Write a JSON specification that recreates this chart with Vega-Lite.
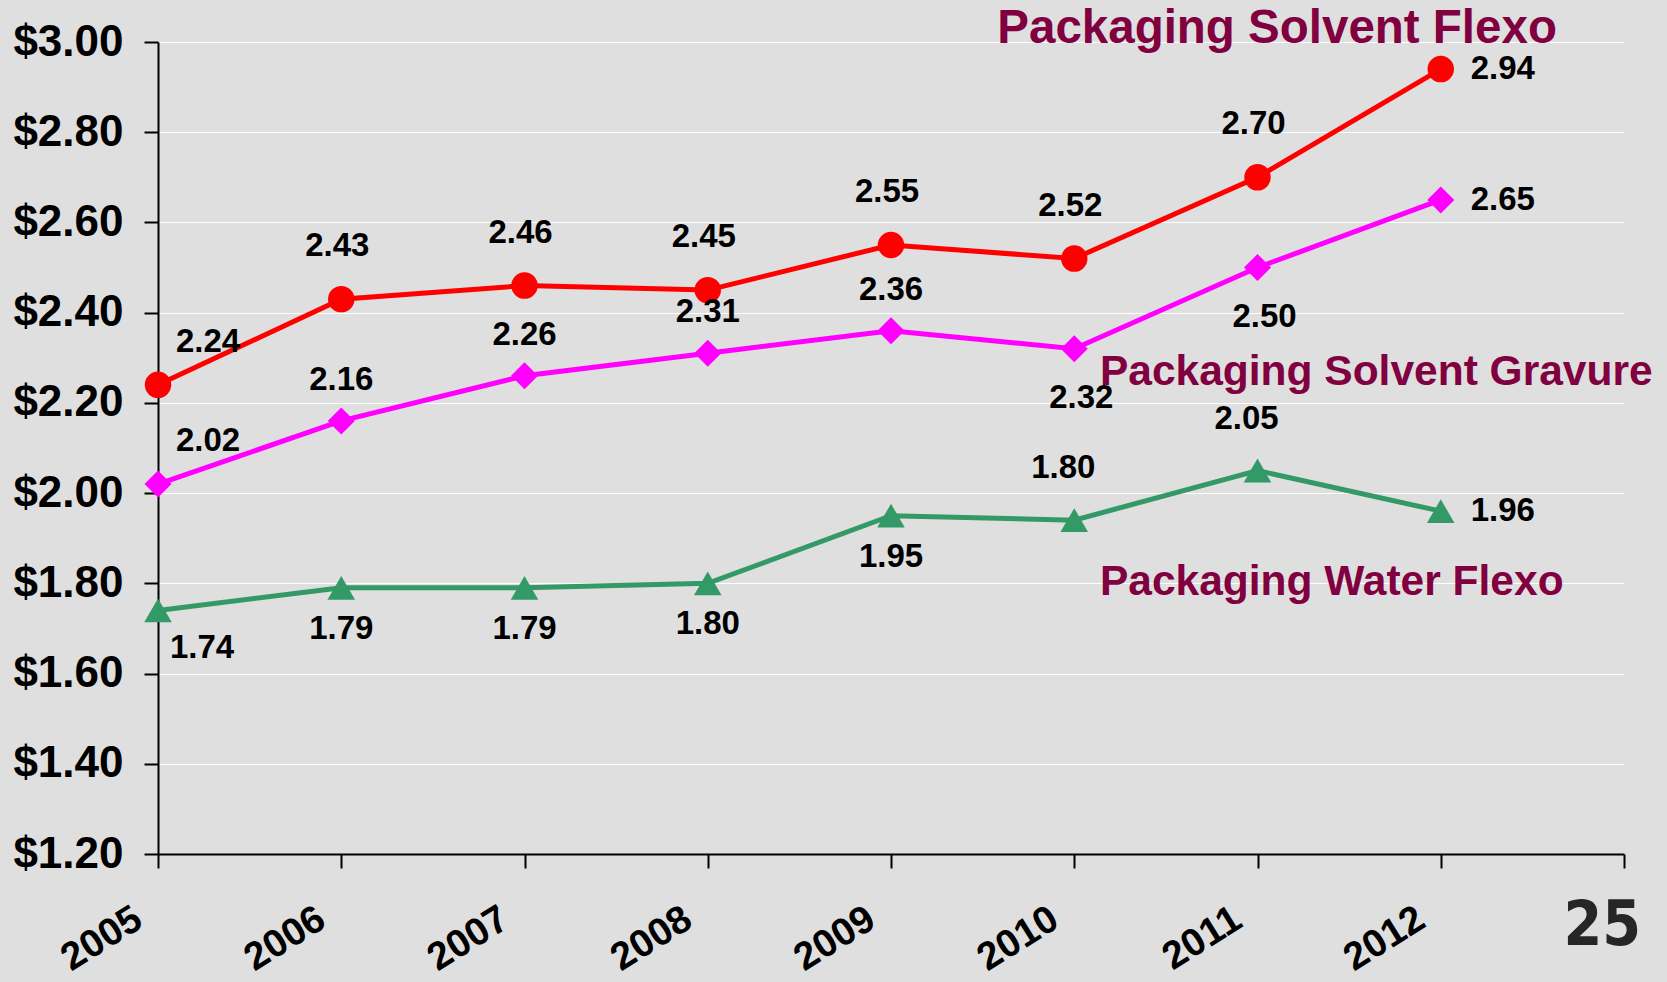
{
  "$schema": "https://vega.github.io/schema/vega-lite/v6.json",
  "width": 1466,
  "height": 812,
  "autosize": "none",
  "padding": {"left": 158, "top": 42, "right": 43, "bottom": 128},
  "background": "#dfdfdf",
  "config": {
    "view": {"stroke": null},
    "font": "Liberation Sans",
    "axis": {
      "domainColor": "#000000",
      "domainWidth": 2,
      "tickColor": "#000000",
      "tickWidth": 2,
      "tickSize": 14,
      "labelColor": "#000000",
      "labelFont": "Liberation Sans",
      "labelFontWeight": "bold",
      "title": null
    }
  },
  "datasets": {
    "prices": [
      {"series": "Packaging Solvent Flexo", "year": 2005, "value": 2.24, "label": "2.24"},
      {"series": "Packaging Solvent Flexo", "year": 2006, "value": 2.43, "label": "2.43"},
      {"series": "Packaging Solvent Flexo", "year": 2007, "value": 2.46, "label": "2.46"},
      {"series": "Packaging Solvent Flexo", "year": 2008, "value": 2.45, "label": "2.45"},
      {"series": "Packaging Solvent Flexo", "year": 2009, "value": 2.55, "label": "2.55"},
      {"series": "Packaging Solvent Flexo", "year": 2010, "value": 2.52, "label": "2.52"},
      {"series": "Packaging Solvent Flexo", "year": 2011, "value": 2.70, "label": "2.70"},
      {"series": "Packaging Solvent Flexo", "year": 2012, "value": 2.94, "label": "2.94"},
      {"series": "Packaging Solvent Gravure", "year": 2005, "value": 2.02, "label": "2.02"},
      {"series": "Packaging Solvent Gravure", "year": 2006, "value": 2.16, "label": "2.16"},
      {"series": "Packaging Solvent Gravure", "year": 2007, "value": 2.26, "label": "2.26"},
      {"series": "Packaging Solvent Gravure", "year": 2008, "value": 2.31, "label": "2.31"},
      {"series": "Packaging Solvent Gravure", "year": 2009, "value": 2.36, "label": "2.36"},
      {"series": "Packaging Solvent Gravure", "year": 2010, "value": 2.32, "label": "2.32"},
      {"series": "Packaging Solvent Gravure", "year": 2011, "value": 2.50, "label": "2.50"},
      {"series": "Packaging Solvent Gravure", "year": 2012, "value": 2.65, "label": "2.65"},
      {"series": "Packaging Water Flexo", "year": 2005, "value": 1.74, "label": "1.74"},
      {"series": "Packaging Water Flexo", "year": 2006, "value": 1.79, "label": "1.79"},
      {"series": "Packaging Water Flexo", "year": 2007, "value": 1.79, "label": "1.79"},
      {"series": "Packaging Water Flexo", "year": 2008, "value": 1.80, "label": "1.80"},
      {"series": "Packaging Water Flexo", "year": 2009, "value": 1.95, "label": "1.95"},
      {"series": "Packaging Water Flexo", "year": 2010, "value": 1.94, "label": "1.80"},
      {"series": "Packaging Water Flexo", "year": 2011, "value": 2.05, "label": "2.05"},
      {"series": "Packaging Water Flexo", "year": 2012, "value": 1.96, "label": "1.96"}
    ],
    "titles": [
      {"name": "Packaging Solvent Flexo", "year": 2009.58, "value": 3.028},
      {"name": "Packaging Solvent Gravure", "year": 2010.14, "value": 2.268},
      {"name": "Packaging Water Flexo", "year": 2010.14, "value": 1.803}
    ],
    "page": [
      {"name": "25", "year": 2012.882, "value": 1.041}
    ]
  },
  "layer": [
    {
      "data": {"name": "prices"},
      "mark": {"type": "line", "strokeWidth": 5},
      "encoding": {
        "x": {
          "field": "year", "type": "quantitative",
          "scale": {"domain": [2005, 2013], "nice": false, "zero": false},
          "axis": {
            "values": [2005, 2006, 2007, 2008, 2009, 2010, 2011, 2012, 2013],
            "format": "d",
            "labelExpr": "datum.value == 2013 ? '' : datum.label",
            "grid": false,
            "labelFontSize": 39,
            "labelAngle": -32,
            "labelAlign": "right",
            "labelBaseline": "top",
            "labelPadding": 31,
            "labelOffset": -30,
            "labelOverlap": false,
            "labelBound": false,
            "labelFlush": false
          }
        },
        "y": {
          "field": "value", "type": "quantitative",
          "scale": {"domain": [1.2, 3.0], "nice": false, "zero": false},
          "axis": {
            "values": [1.2, 1.4, 1.6, 1.8, 2.0, 2.2, 2.4, 2.6, 2.8, 3.0],
            "format": "$.2f",
            "grid": true,
            "gridColor": "#ffffff",
            "gridWidth": 1.2,
            "labelFontSize": 44,
            "labelPadding": 21,
            "labelOverlap": false,
            "labelBound": false,
            "labelFlush": false
          }
        },
        "color": {
          "field": "series", "type": "nominal",
          "scale": {
            "domain": ["Packaging Solvent Flexo", "Packaging Solvent Gravure", "Packaging Water Flexo"],
            "range": ["#ff0000", "#ff00ff", "#339966"]
          },
          "legend": null
        }
      }
    },
    {
      "data": {"name": "prices"},
      "mark": {"type": "point", "filled": true, "opacity": 1},
      "encoding": {
        "x": {"field": "year", "type": "quantitative"},
        "y": {"field": "value", "type": "quantitative"},
        "color": {"field": "series", "type": "nominal", "legend": null},
        "shape": {
          "field": "series", "type": "nominal",
          "scale": {
            "domain": ["Packaging Solvent Flexo", "Packaging Solvent Gravure", "Packaging Water Flexo"],
            "range": ["circle", "diamond", "triangle-up"]
          },
          "legend": null
        },
        "size": {
          "field": "series", "type": "nominal",
          "scale": {
            "domain": ["Packaging Solvent Flexo", "Packaging Solvent Gravure", "Packaging Water Flexo"],
            "range": [700, 760, 800]
          },
          "legend": null
        }
      }
    },
    {
      "data": {"name": "prices"},
      "transform": [{"filter": "datum.series == 'Packaging Solvent Flexo' && datum.year >= 2006 && datum.year <= 2011"}],
      "mark": {"type": "text", "dy": -53, "dx": -4, "fontSize": 33, "fontWeight": "bold", "color": "#000000"},
      "encoding": {"x": {"field": "year", "type": "quantitative"}, "y": {"field": "value", "type": "quantitative"}, "text": {"field": "label"}}
    },
    {
      "data": {"name": "prices"},
      "transform": [{"filter": "datum.series == 'Packaging Solvent Gravure' && datum.year >= 2006 && datum.year <= 2009"}],
      "mark": {"type": "text", "dy": -41, "fontSize": 33, "fontWeight": "bold", "color": "#000000"},
      "encoding": {"x": {"field": "year", "type": "quantitative"}, "y": {"field": "value", "type": "quantitative"}, "text": {"field": "label"}}
    },
    {
      "data": {"name": "prices"},
      "transform": [{"filter": "datum.series == 'Packaging Solvent Gravure' && (datum.year == 2010 || datum.year == 2011)"}],
      "mark": {"type": "text", "dy": 49, "dx": 7, "fontSize": 33, "fontWeight": "bold", "color": "#000000"},
      "encoding": {"x": {"field": "year", "type": "quantitative"}, "y": {"field": "value", "type": "quantitative"}, "text": {"field": "label"}}
    },
    {
      "data": {"name": "prices"},
      "transform": [{"filter": "datum.series == 'Packaging Water Flexo' && datum.year >= 2006 && datum.year <= 2009"}],
      "mark": {"type": "text", "dy": 41, "fontSize": 33, "fontWeight": "bold", "color": "#000000"},
      "encoding": {"x": {"field": "year", "type": "quantitative"}, "y": {"field": "value", "type": "quantitative"}, "text": {"field": "label"}}
    },
    {
      "data": {"name": "prices"},
      "transform": [{"filter": "datum.series == 'Packaging Water Flexo' && (datum.year == 2010 || datum.year == 2011)"}],
      "mark": {"type": "text", "dy": -52, "dx": -11, "fontSize": 33, "fontWeight": "bold", "color": "#000000"},
      "encoding": {"x": {"field": "year", "type": "quantitative"}, "y": {"field": "value", "type": "quantitative"}, "text": {"field": "label"}}
    },
    {
      "data": {"name": "prices"},
      "transform": [{"filter": "datum.year == 2012"}],
      "mark": {"type": "text", "align": "left", "dx": 30, "dy": 0, "fontSize": 33, "fontWeight": "bold", "color": "#000000"},
      "encoding": {"x": {"field": "year", "type": "quantitative"}, "y": {"field": "value", "type": "quantitative"}, "text": {"field": "label"}}
    },
    {
      "data": {"name": "prices"},
      "transform": [{"filter": "datum.year == 2005 && datum.series != 'Packaging Water Flexo'"}],
      "mark": {"type": "text", "dx": 50, "dy": -43, "fontSize": 33, "fontWeight": "bold", "color": "#000000"},
      "encoding": {"x": {"field": "year", "type": "quantitative"}, "y": {"field": "value", "type": "quantitative"}, "text": {"field": "label"}}
    },
    {
      "data": {"name": "prices"},
      "transform": [{"filter": "datum.year == 2005 && datum.series == 'Packaging Water Flexo'"}],
      "mark": {"type": "text", "dx": 44, "dy": 38, "fontSize": 33, "fontWeight": "bold", "color": "#000000"},
      "encoding": {"x": {"field": "year", "type": "quantitative"}, "y": {"field": "value", "type": "quantitative"}, "text": {"field": "label"}}
    },
    {
      "data": {"name": "titles"},
      "transform": [{"filter": "datum.name == 'Packaging Solvent Flexo'"}],
      "mark": {"type": "text", "align": "left", "baseline": "middle", "fontSize": 47.5, "fontWeight": "bold", "color": "#800040"},
      "encoding": {"x": {"field": "year", "type": "quantitative"}, "y": {"field": "value", "type": "quantitative"}, "text": {"field": "name"}}
    },
    {
      "data": {"name": "titles"},
      "transform": [{"filter": "datum.name != 'Packaging Solvent Flexo'"}],
      "mark": {"type": "text", "align": "left", "baseline": "middle", "fontSize": 42.5, "fontWeight": "bold", "color": "#800040"},
      "encoding": {"x": {"field": "year", "type": "quantitative"}, "y": {"field": "value", "type": "quantitative"}, "text": {"field": "name"}}
    },
    {
      "data": {"name": "page"},
      "mark": {"type": "text", "align": "center", "baseline": "middle", "font": "DejaVu Sans Condensed, DejaVu Sans, sans-serif", "fontSize": 62, "fontWeight": "bold", "color": "#262626"},
      "encoding": {"x": {"field": "year", "type": "quantitative"}, "y": {"field": "value", "type": "quantitative"}, "text": {"field": "name"}}
    }
  ]
}
